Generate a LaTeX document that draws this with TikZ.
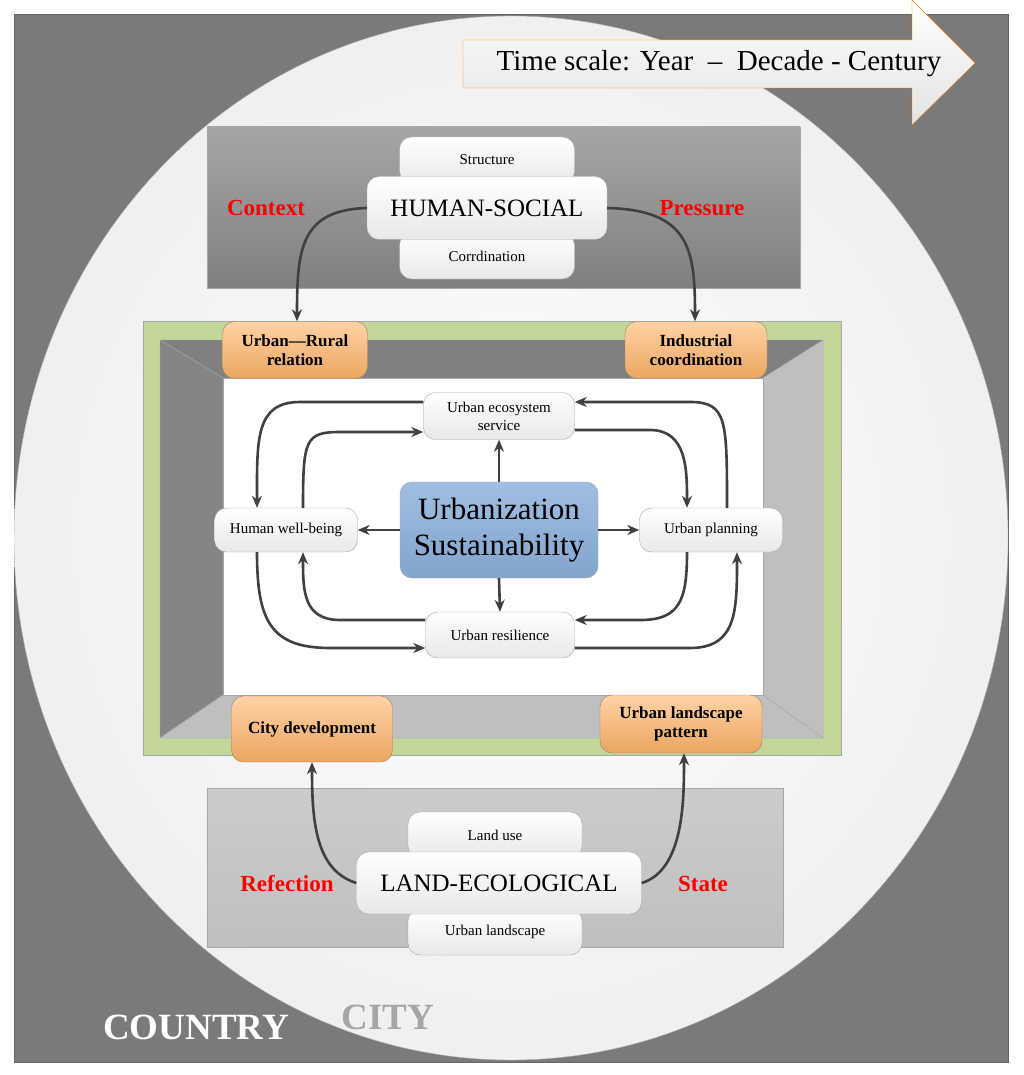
\documentclass[tikz,border=0pt]{standalone}
\usepackage{fontspec}
\setmainfont{Liberation Serif}
\usetikzlibrary{arrows.meta}
\definecolor{ublue}{RGB}{160,190,225}
\definecolor{ublue2}{RGB}{130,165,205}
\definecolor{ogreen}{RGB}{195,214,155}
\begin{document}
\begin{tikzpicture}[x=1pt,y=-1pt,
 rbox/.style={draw=gray!70,rounded corners=12,top color=white,bottom color=gray!18,align=center,inner sep=0pt},
 obox/.style={draw=gray!60!brown,rounded corners=12,top color=orange!35,bottom color=orange!55!brown!70,align=center,font=\bfseries\fontsize{17}{19}\selectfont,inner sep=0pt},
 arr/.style={draw=black!75,line width=2.6pt,-{Stealth[length=12pt,width=10pt]}},
 lbl/.style={text=red,font=\bfseries\fontsize{23}{26}\selectfont}]
\useasboundingbox (0,0) rectangle (1024,1075);
\fill[white] (0,0) rectangle (1024,1075);
\filldraw[fill=black!52,draw=black!60] (14,14) rectangle (1008,1062);
\begin{scope}
\clip (14,14) rectangle (1008,1062);
\shade[inner color=white,outer color=gray!12,draw=gray!60] (511,538) ellipse[x radius=497,y radius=522];
\end{scope}
% time arrow
\shade[top color=white,bottom color=gray!22,draw=orange!80!brown] (463,40) -- (912,40) -- (912,0) -- (975,63) -- (912,125) -- (912,88) -- (463,88) -- cycle;
\node[font=\fontsize{29}{32}\selectfont] (tt) at (719,64) {Time scale: Year\enspace –\enspace Decade - Century};
% top box
\shade[top color=black!35,bottom color=black!50,draw=gray!70] (207,127) rectangle (800,288);
\node[rbox,minimum width=175,minimum height=46,font=\fontsize{15}{17}\selectfont] (st) at (487,160) {Structure};
\node[rbox,minimum width=175,minimum height=46,font=\fontsize{15}{17}\selectfont] (co) at (487,256) {Corrdination};
\node[rbox,minimum width=240,minimum height=63,font=\fontsize{25}{28}\selectfont] (hs) at (487,208) {HUMAN-SOCIAL};
\node[lbl] (ctx) at (266,208) {Context};
\node[lbl] (pr) at (702,208) {Pressure};
% bottom box
\shade[top color=black!20,bottom color=black!25,draw=gray!70] (207,788) rectangle (783,947);
\node[rbox,minimum width=174,minimum height=46,font=\fontsize{15}{17}\selectfont] (lu) at (495,835) {Land use};
\node[rbox,minimum width=174,minimum height=46,font=\fontsize{15}{17}\selectfont] (ul) at (495,932) {Urban landscape};
\node[rbox,minimum width=285,minimum height=62,font=\fontsize{25}{28}\selectfont] (le) at (499,883) {LAND-ECOLOGICAL};
\node[lbl] (rf) at (287,884) {Refection};
\node[lbl] (sa) at (703,884) {State};
% green frame
\filldraw[fill=ogreen,draw=gray!70] (143,321) rectangle (841,755);
\filldraw[fill=black!50,draw=gray!70] (160,340) -- (823,340) -- (763,378) -- (223,378) -- cycle;
\filldraw[fill=black!48,draw=gray!70] (160,340) -- (223,378) -- (223,695) -- (160,738) -- cycle;
\filldraw[fill=black!25,draw=gray!70] (823,340) -- (823,738) -- (763,695) -- (763,378) -- cycle;
\filldraw[fill=black!25,draw=gray!70] (160,738) -- (223,695) -- (763,695) -- (823,738) -- cycle;
\filldraw[fill=white,draw=gray!70] (223,378) rectangle (763,695);
\node[obox,minimum width=145,minimum height=57] (ur) at (295,350) {Urban—Rural\\relation};
\node[obox,minimum width=142,minimum height=57] (ic) at (696,350) {Industrial\\coordination};
\node[obox,minimum width=161,minimum height=66] (cd) at (312,729) {City development};
\node[obox,minimum width=162,minimum height=58] (lp) at (681,724) {Urban landscape\\pattern};
% inner nodes
\node[rbox,minimum width=198,minimum height=96,top color=ublue,bottom color=ublue2,draw=gray!70,font=\fontsize{31}{36}\selectfont] (us) at (499,530) {Urbanization\\Sustainability};
\node[rbox,minimum width=151,minimum height=47,font=\fontsize{15}{18}\selectfont] (es) at (499,416) {Urban ecosystem\\service};
\node[rbox,minimum width=143,minimum height=44,font=\fontsize{15}{17}\selectfont] (hw) at (286,530) {Human well-being};
\node[rbox,minimum width=143,minimum height=44,font=\fontsize{15}{17}\selectfont] (up) at (711,530) {Urban planning};
\node[rbox,minimum width=149,minimum height=46,font=\fontsize{15}{17}\selectfont] (rs) at (500,635) {Urban resilience};
% arrows
\draw[arr] (hs.west) .. controls (300,210) and (297,250) .. (ur.north-|297,0);
\draw[arr] (hs.east) .. controls (690,210) and (695,250) .. (ic.north-|695,0);
\draw[arr] (le.west) .. controls (315,870) and (312,820) .. (cd.south-|312,0);
\draw[arr] (le.east) .. controls (684,870) and (684,800) .. (lp.south-|684,0);
\draw[arr] (us.north) -- (es.south);
\draw[arr] (us.south) -- (rs.north);
\draw[arr] (us.west) -- (hw.east);
\draw[arr] (us.east) -- (up.west);
\draw[arr] (es.west|-0,402) -- (300,402) .. controls (255,402) and (257,440) .. (hw.north-|257,0);
\draw[arr] (hw.north-|303,0) .. controls (303,440) and (305,432) .. (340,432) -- (es.west|-0,432);
\draw[arr] (es.east|-0,430) -- (650,430) .. controls (687,430) and (687,470) .. (up.north-|687,0);
\draw[arr] (up.north-|727,0) .. controls (727,420) and (727,402) .. (690,402) -- (es.east|-0,402);
\draw[arr] (hw.south-|257,0) .. controls (257,620) and (270,648) .. (330,648) -- (rs.west|-0,648);
\draw[arr] (rs.west|-0,620) -- (340,620) .. controls (303,620) and (303,590) .. (hw.south-|303,0);
\draw[arr] (up.south-|687,0) .. controls (687,600) and (680,620) .. (640,620) -- (rs.east|-0,620);
\draw[arr] (rs.east|-0,648) -- (690,648) .. controls (737,648) and (737,610) .. (up.south-|737,0);
% country city
\node[text=white,font=\bfseries\fontsize{37}{40}\selectfont] (cn) at (196,1027) {COUNTRY};
\node[text=gray!70,font=\bfseries\fontsize{37}{40}\selectfont] (ci) at (388,1017) {CITY};
\end{tikzpicture}
\end{document}
